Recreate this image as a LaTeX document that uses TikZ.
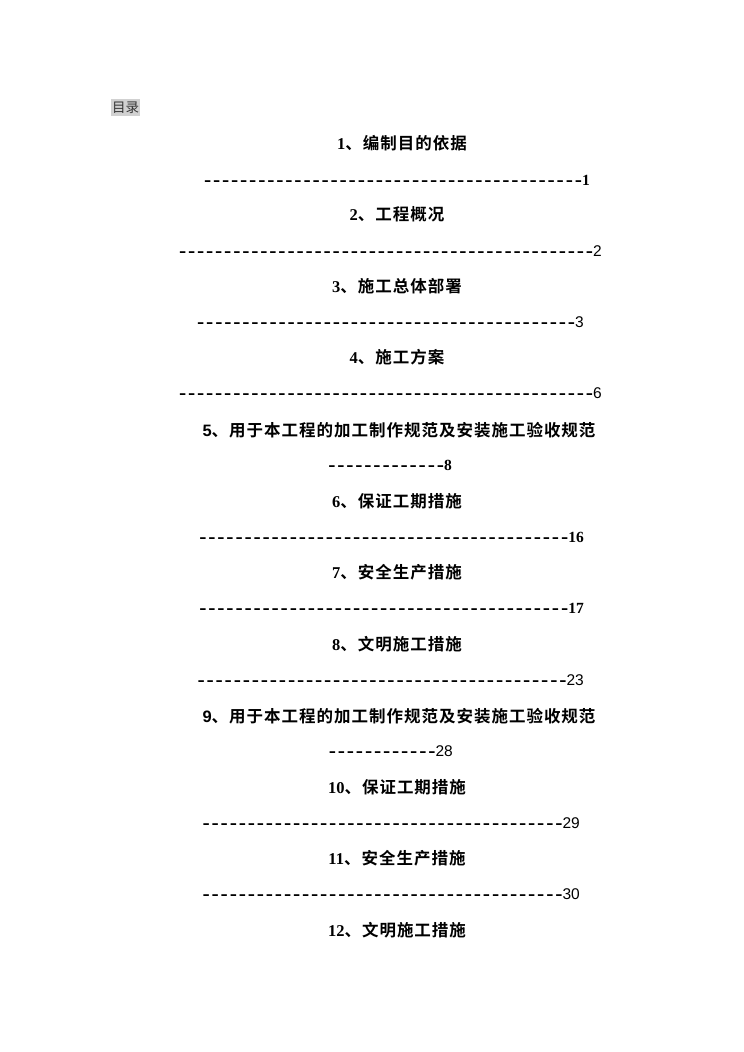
\documentclass[tikz,border=0pt]{standalone}
\usepackage{fontspec}
\newfontfamily\cjkfont{Noto Sans CJK SC}[LetterSpace=6,BoldFont={Noto Sans CJK SC Bold}]
\newfontfamily\cjkplain{Noto Sans CJK SC}
\newfontfamily\numserif{Liberation Serif}
\newfontfamily\numsans{Liberation Sans}
\newfontfamily\dashfont{Liberation Sans Bold}[Ligatures=TeXOff,FakeStretch=1.45,LetterSpace=12]
\newcommand\snum[1]{{\numserif\bfseries #1}}
\newcommand\anum[1]{{\numsans #1}}
\newcommand\dashrun[1]{{\dashfont\fontsize{15}{18}\selectfont #1}}
\tikzset{%
	toc heading/.style={
		inner sep=0pt,
		font=\fontsize{16.5}{19}\selectfont\bfseries
	},
	toc leader/.style={
		anchor=east,
		inner sep=0pt,
		font=\fontsize{15.5}{18}\selectfont
	},
	toc title/.style={
		fill=black!18,
		text=black!80,
		inner xsep=1pt,
		inner ysep=3pt,
		font=\fontsize{13.5}{16}\selectfont\cjkplain
	},
}
\begin{document}
\begin{tikzpicture}[x=1pt,y=-1pt]
		\useasboundingbox[fill=white] (0,0) rectangle (744,1052);
		
		% Title
		\node[toc title] (title) at (125.5,107.5) {目录};
		
		% Entries and their leaders
		\node[toc heading] (h1) at (402,143) {\snum{1}{\cjkfont 、编制目的依据}};
		\node[toc leader] (l1) at (590,180) {\dashrun{------------------------------------------}\snum{1}};
		\node[toc heading] (h2) at (397,214) {\snum{2}{\cjkfont 、工程概况}};
		\node[toc leader] (l2) at (602,251) {\dashrun{----------------------------------------------}\anum{2}};
		\node[toc heading] (h3) at (397,286) {\snum{3}{\cjkfont 、施工总体部署}};
		\node[toc leader] (l3) at (584,322) {\dashrun{------------------------------------------}\anum{3}};
		\node[toc heading] (h4) at (397,357) {\snum{4}{\cjkfont 、施工方案}};
		\node[toc leader] (l4) at (602,393) {\dashrun{----------------------------------------------}\anum{6}};
		\node[toc heading] (h5) at (399,430) {\anum{5}{\cjkfont 、用于本工程的加工制作规范及安装施工验收规范}};
		\node[toc leader] (l5) at (452,465) {\dashrun{-------------}\snum{8}};
		\node[toc heading] (h6) at (397,501) {\snum{6}{\cjkfont 、保证工期措施}};
		\node[toc leader] (l6) at (584,537) {\dashrun{-----------------------------------------}\snum{16}};
		\node[toc heading] (h7) at (397,572) {\snum{7}{\cjkfont 、安全生产措施}};
		\node[toc leader] (l7) at (584,608) {\dashrun{-----------------------------------------}\snum{17}};
		\node[toc heading] (h8) at (397,644) {\snum{8}{\cjkfont 、文明施工措施}};
		\node[toc leader] (l8) at (584,680) {\dashrun{-----------------------------------------}\anum{23}};
		\node[toc heading] (h9) at (399,716) {\anum{9}{\cjkfont 、用于本工程的加工制作规范及安装施工验收规范}};
		\node[toc leader] (l9) at (453,751) {\dashrun{------------}\anum{28}};
		\node[toc heading] (h10) at (397,787) {\snum{10}{\cjkfont 、保证工期措施}};
		\node[toc leader] (l10) at (580,823) {\dashrun{----------------------------------------}\anum{29}};
		\node[toc heading] (h11) at (397,858) {\snum{11}{\cjkfont 、安全生产措施}};
		\node[toc leader] (l11) at (580,894) {\dashrun{----------------------------------------}\anum{30}};
		\node[toc heading] (h12) at (397,930) {\snum{12}{\cjkfont 、文明施工措施}};
		
\end{tikzpicture}
\end{document}
